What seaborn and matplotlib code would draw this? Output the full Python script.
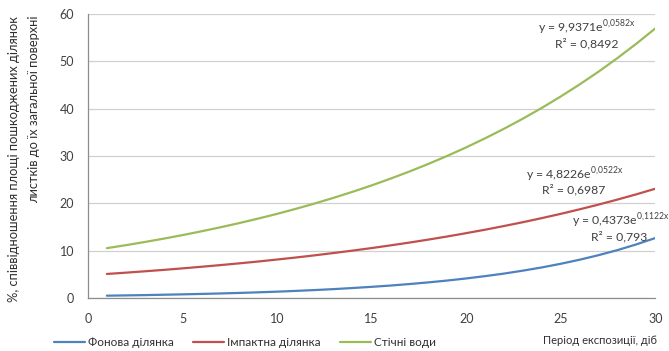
import matplotlib
matplotlib.use("Agg")
import matplotlib.pyplot as plt
import seaborn as sns
import pandas as pd

days = list(range(1, 31))
fonova = [0.49, 0.55, 0.61, 0.69, 0.77, 0.86, 0.96, 1.07, 1.20, 1.34,
          1.50, 1.68, 1.88, 2.11, 2.36, 2.63, 2.95, 3.30, 3.69, 4.13,
          4.62, 5.16, 5.78, 6.46, 7.23, 8.09, 9.05, 10.12, 11.33, 12.67]
impaktna = [5.08, 5.35, 5.64, 5.94, 6.26, 6.60, 6.95, 7.32, 7.71, 8.13,
            8.56, 9.02, 9.51, 10.02, 10.55, 11.12, 11.71, 12.34, 13.00, 13.70,
            14.43, 15.21, 16.02, 16.88, 17.78, 18.74, 19.74, 20.80, 21.91, 23.09]
stichni = [10.53, 11.16, 11.83, 12.54, 13.29, 14.09, 14.94, 15.83, 16.78, 17.78,
           18.85, 19.98, 21.18, 22.45, 23.79, 25.22, 26.73, 28.33, 30.03, 31.83,
           33.74, 35.76, 37.90, 40.17, 42.58, 45.13, 47.83, 50.70, 53.74, 56.96]
series_names = ["Фонова ділянка", "Імпактна ділянка", "Стічні води"]
colors = ["#4F81BD", "#C0504D", "#9BBB59"]
eq_labels = [("y = 0,4373e", "0,1122x", "R² = 0,793"),
             ("y = 4,8226e", "0,0522x", "R² = 0,6987"),
             ("y = 9,9371e", "0,0582x", "R² = 0,8492")]
x_ticks = [0, 5, 10, 15, 20, 25, 30]
y_ticks = [0, 10, 20, 30, 40, 50, 60]

df = pd.DataFrame({
    "day": days * 3,
    "value": fonova + impaktna + stichni,
    "series": [series_names[0]] * 30 + [series_names[1]] * 30 + [series_names[2]] * 30,
})

sns.set_theme(style="white")
plt.rcParams["font.family"] = ["Lato", "DejaVu Sans"]
plt.rcParams["mathtext.fontset"] = "custom"
plt.rcParams["mathtext.rm"] = "Lato"

fig = plt.figure(figsize=(6.69, 3.51), dpi=100)
ax = fig.add_axes([0.1315, 0.151, 0.848, 0.809])

sns.lineplot(data=df, x="day", y="value", hue="series", hue_order=series_names,
             palette=colors, linewidth=1.6, ax=ax, legend=False)

ax.set_xlim(0, 30)
ax.set_ylim(0, 60)
ax.set_xticks(x_ticks)
ax.set_yticks(y_ticks)
ax.yaxis.grid(True, color="#D0D0D0", linewidth=0.9)
ax.set_axisbelow(True)
for s in ["top", "right"]:
    ax.spines[s].set_visible(False)
for s in ["left", "bottom"]:
    ax.spines[s].set_color("#8C8C8C")
    ax.spines[s].set_linewidth(0.9)
ax.tick_params(axis="both", direction="out", length=4, width=0.9, color="#8C8C8C",
               labelsize=9, labelcolor="#404040", pad=6)
ax.tick_params(axis="x", pad=7)
ax.set_xlabel("")
ax.set_ylabel("")

fig.text(0.982, 0.03, "Період експозиції, діб", ha="right", va="center",
         fontsize=8, color="#303030")
fig.text(0.036, 0.955, "%, співвідношення площі пошкоджених ділянок\nлистків до їх загальної поверхні",
         rotation=90, ha="center", va="top", fontsize=9.3, color="#303030",
         multialignment="right", linespacing=1.75)

# Trend equations
pos = [((28.15, 16.3), (28.1, 13.0)),
       ((25.75, 26.0), (25.7, 22.8)),
       ((26.4, 57.0), (26.4, 53.7))]
for (base, sup, r2), (p1, p2) in zip(eq_labels, pos):
    ax.text(p1[0], p1[1], base + r"$^{\mathrm{" + sup.replace(",", "{,}") + r"}}$",
            ha="center", va="center", fontsize=8.8, color="#404040")
    ax.text(p2[0], p2[1], r2, ha="center", va="center", fontsize=8.8, color="#404040")

handles = [plt.Line2D([0], [0], color=c, linewidth=1.6) for c in colors]
fig.legend(handles, series_names, loc="center left", bbox_to_anchor=(0.065, 0.025),
           ncol=3, frameon=False, fontsize=8.5, handlelength=2.6, handletextpad=0.3,
           columnspacing=1.6, labelcolor="#303030")

fig.savefig("out.png", dpi=100)
